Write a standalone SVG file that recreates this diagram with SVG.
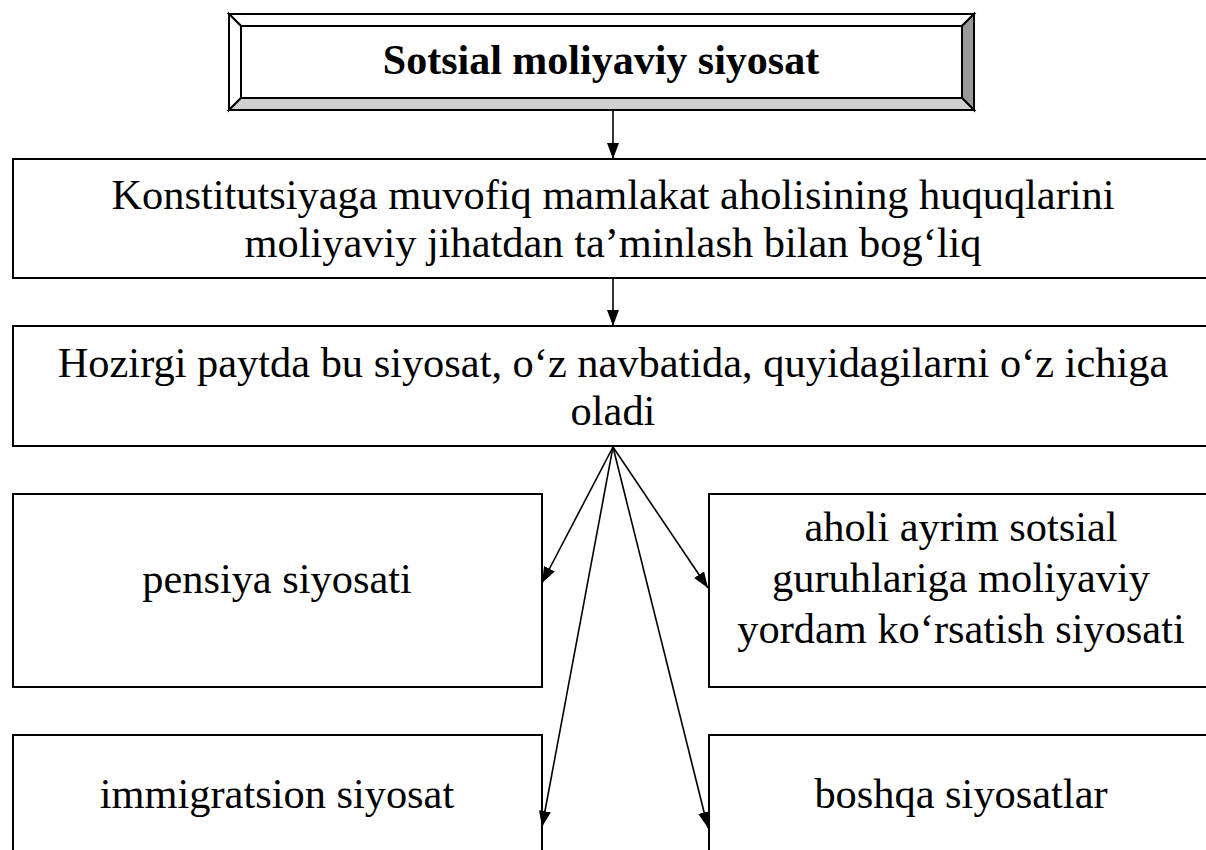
<svg xmlns="http://www.w3.org/2000/svg" width="1206" height="850" viewBox="0 0 1206 850">
<style>
.box{fill:#fff;stroke:#000;stroke-width:2}
.bev{stroke:#000;stroke-width:2;stroke-linejoin:miter}
.t{font-family:'Liberation Serif','Tinos','Times New Roman',serif;font-size:42.4px;fill:#000;text-anchor:middle}
.b{font-weight:bold;font-size:42px}
.c{stroke:#000;stroke-width:1.6;fill:none}
</style>
<defs>
<marker id="ah" markerUnits="userSpaceOnUse" markerWidth="17" markerHeight="13" refX="16" refY="6" orient="auto">
<path d="M0,0 L16,6 L0,12 z" fill="#000"/>
</marker>
</defs>
<rect width="1206" height="850" fill="#fff"/>
<g id="n-title">
<polygon class="bev" fill="#fff" points="229,14 974,14 962,26 241,26"/>
<polygon class="bev" fill="#fff" points="229,14 241,26 241,98 229,110"/>
<polygon class="bev" fill="#999" points="974,14 974,110 962,98 962,26"/>
<polygon class="bev" fill="#d0d0d0" points="229,110 974,110 962,98 241,98"/>
<rect class="box" x="241" y="26" width="721" height="72"/>
<text class="t b" x="601" y="74">Sotsial moliyaviy siyosat</text>
</g>
<g id="n-konst">
<rect class="box" x="13" y="159" width="1200" height="119"/>
<text class="t" x="613" y="209">Konstitutsiyaga muvofiq mamlakat aholisining huquqlarini</text>
<text class="t" x="613" y="257">moliyaviy jihatdan ta’minlash bilan bog‘liq</text>
</g>
<g id="n-hozirgi">
<rect class="box" x="13" y="326" width="1200" height="120"/>
<text class="t" x="613" y="377">Hozirgi paytda bu siyosat, o‘z navbatida, quyidagilarni o‘z ichiga</text>
<text class="t" x="613" y="425">oladi</text>
</g>
<g id="n-pensiya">
<rect class="box" x="13" y="494" width="529" height="193"/>
<text class="t" x="277" y="593">pensiya siyosati</text>
</g>
<g id="n-aholi">
<rect class="box" x="709" y="494" width="504" height="193"/>
<text class="t" x="961" y="541">aholi ayrim sotsial</text>
<text class="t" x="961" y="592">guruhlariga moliyaviy</text>
<text class="t" x="961" y="643">yordam ko‘rsatish siyosati</text>
</g>
<g id="n-immigratsion">
<rect class="box" x="13" y="735" width="529" height="130"/>
<text class="t" x="277" y="808">immigratsion siyosat</text>
</g>
<g id="n-boshqa">
<rect class="box" x="709" y="735" width="504" height="130"/>
<text class="t" x="961" y="808">boshqa siyosatlar</text>
</g>
<g id="connectors">
<line class="c" x1="613" y1="111" x2="613" y2="159" marker-end="url(#ah)"/>
<line class="c" x1="613" y1="279" x2="613" y2="326" marker-end="url(#ah)"/>
<line class="c" x1="613" y1="447" x2="542" y2="583" marker-end="url(#ah)"/>
<line class="c" x1="613" y1="447" x2="708" y2="588" marker-end="url(#ah)"/>
<line class="c" x1="613" y1="447" x2="542" y2="827" marker-end="url(#ah)"/>
<line class="c" x1="613" y1="447" x2="708" y2="828" marker-end="url(#ah)"/>
</g>
</svg>
